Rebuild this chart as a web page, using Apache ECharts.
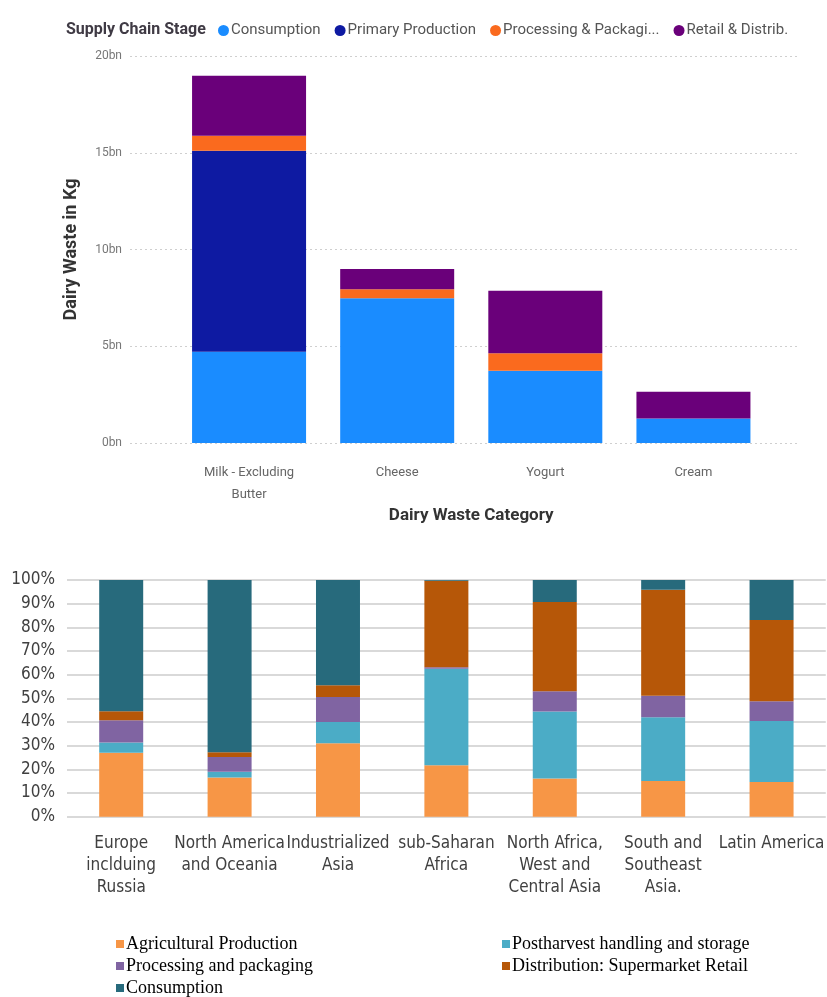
<!DOCTYPE html>
<html>
<head>
<meta charset="utf-8">
<script src="https://cdn.jsdelivr.net/npm/echarts@6/dist/echarts.min.js"></script>
<style>
  html, body { margin: 0; padding: 0; background: #fff; }
  #chart { width: 827px; height: 997px; }
</style>
</head>
<body>
<div id="chart"></div>
<script>
// ---- Dairy waste by category (billions of kg) ----
const dairyCategories = ['Milk - Excluding\nButter', 'Cheese', 'Yogurt', 'Cream'];
const stageNames = ['Consumption', 'Primary Production', 'Processing & Packaging', 'Retail & Distribution'];
const stageLegendLabels = ['Consumption', 'Primary Production', 'Processing & Packagi...', 'Retail & Distrib.'];
const consumptionBn = [4.72, 7.48, 3.74, 1.26];
const primaryProductionBn = [10.38, 0, 0, 0];
const processingBn = [0.78, 0.46, 0.90, 0];
const retailBn = [3.10, 1.05, 3.23, 1.39];
const dairyTicks = [0, 5, 10, 15, 20];

// ---- Share of food loss by supply chain stage per region (%) ----
const regions = ['Europe\ninclduing\nRussia', 'North America\nand Oceania', 'Industrialized\nAsia',
  'sub-Saharan\nAfrica', 'North Africa,\nWest and\nCentral Asia', 'South and\nSoutheast\nAsia.', 'Latin America'];
const lossStages = ['Agricultural Production', 'Postharvest handling and storage', 'Processing and packaging',
  'Distribution: Supermarket Retail', 'Consumption'];
const agricultural = [27.0, 16.6, 31.0, 21.7, 16.1, 15.1, 14.7];
const postharvest  = [4.4, 2.4, 9.0, 40.8, 28.3, 26.9, 25.7];
const processing   = [9.3, 6.2, 10.6, 0.6, 8.6, 9.1, 8.4];
const distribution = [3.8, 2.0, 4.9, 36.6, 37.7, 44.8, 34.3];
const consumption  = [55.5, 72.8, 44.5, 0.3, 9.3, 4.1, 16.9];

const dairyColors = ['#1A8CFF', '#0E1AA2', '#FA6A1E', '#6A007A'];
const lossColors = ['#F79646', '#4BACC6', '#8064A2', '#B65708', '#276A7C'];

const uiFont = 'Roboto, "Noto Sans", sans-serif';
const xlFont = '"Liberation Sans Narrow", "DejaVu Sans Condensed", sans-serif';
const serifFont = '"Liberation Serif", "DejaVu Serif", serif';

const dairyValues = [consumptionBn, primaryProductionBn, processingBn, retailBn];
const lossValues = [agricultural, postharvest, processing, distribution, consumption];

// Series in the two charts share stage names, so each series gets a chart-specific key
const dairyKey = n => 'dairy:' + n;
const lossKey = n => 'loss:' + n;

const chart = echarts.init(document.getElementById('chart'), null, { renderer: 'canvas' });

const series = [];
stageNames.forEach((name, i) => {
  series.push({
    name: dairyKey(name), type: 'bar', stack: 'dairy', xAxisIndex: 0, yAxisIndex: 0,
    barWidth: 114, data: dairyValues[i],
    itemStyle: { color: dairyColors[i] }, emphasis: { disabled: true }
  });
});
lossStages.forEach((name, i) => {
  series.push({
    name: lossKey(name), type: 'bar', stack: 'loss', xAxisIndex: 2, yAxisIndex: 2,
    barWidth: 44, data: lossValues[i],
    itemStyle: { color: lossColors[i] }, emphasis: { disabled: true }
  });
});

const lossLegendText = {
  fontFamily: serifFont, fontSize: 18, color: '#000', padding: [0, 0, 0, -3]
};

const option = {
  animation: false,
  backgroundColor: '#fff',
  title: {
    text: 'Supply Chain Stage', left: 61, top: 17,
    textStyle: { fontFamily: uiFont, fontSize: 16, fontWeight: 'bold', color: '#3f3a44' }
  },
  legend: [
    {
      data: stageNames.map(dairyKey), left: 213, top: 18, icon: 'circle',
      itemWidth: 11, itemHeight: 11, itemGap: 14,
      formatter: n => stageLegendLabels[stageNames.map(dairyKey).indexOf(n)],
      textStyle: { fontFamily: uiFont, fontSize: 15, color: '#555', padding: [0, 0, 0, -3] }
    },
    {
      data: [lossStages[0], lossStages[2], lossStages[4]].map(lossKey), orient: 'vertical',
      left: 111, top: 930, height: 80, icon: 'rect', itemWidth: 8, itemHeight: 8, itemGap: 4,
      formatter: n => n.slice(5), textStyle: lossLegendText
    },
    {
      data: [lossStages[1], lossStages[3]].map(lossKey), orient: 'vertical',
      left: 497, top: 930, height: 80, icon: 'rect', itemWidth: 8, itemHeight: 8, itemGap: 4,
      formatter: n => n.slice(5), textStyle: lossLegendText
    }
  ],
  grid: [
    { left: 175, right: 59.5, top: 56, height: 387 },   // dairy bars
    { left: 130, right: 27, top: 56, height: 387 },     // dairy value gridlines
    { left: 67, width: 765, top: 580, height: 236.7 }   // regional shares
  ],
  xAxis: [
    {
      type: 'category', gridIndex: 0, data: dairyCategories,
      axisLine: { show: false }, axisTick: { show: false },
      axisLabel: { interval: 0, margin: 19, fontFamily: uiFont, fontSize: 13, color: '#666', lineHeight: 22 },
      name: 'Dairy Waste Category', nameLocation: 'middle', nameGap: 64,
      nameTextStyle: { fontFamily: uiFont, fontSize: 17, fontWeight: 'bold', color: '#333' }
    },
    { type: 'value', gridIndex: 1, show: false, min: 0, max: 1 },
    {
      type: 'category', gridIndex: 2, data: regions,
      axisLine: { show: false }, axisTick: { show: false },
      axisLabel: { interval: 0, margin: 16, fontFamily: xlFont, fontSize: 17, color: '#404040', lineHeight: 22 }
    }
  ],
  yAxis: [
    { type: 'value', gridIndex: 0, min: 0, max: 20, interval: 5, show: false },
    {
      type: 'value', gridIndex: 1, min: dairyTicks[0], max: dairyTicks[dairyTicks.length - 1], interval: 5,
      axisLine: { show: false }, axisTick: { show: false },
      axisLabel: { formatter: v => v + 'bn', fontFamily: uiFont, fontSize: 12, color: '#777', margin: 8 },
      splitLine: { lineStyle: { color: '#cfcfcf', type: [2, 3], width: 1 } },
      name: 'Dairy Waste in Kg', nameLocation: 'middle', nameGap: 50, nameRotate: 90,
      nameTextStyle: { fontFamily: uiFont, fontSize: 18, fontWeight: 'bold', color: '#333' }
    },
    {
      type: 'value', gridIndex: 2, min: 0, max: 100, interval: 10,
      axisLine: { show: false }, axisTick: { show: false },
      axisLabel: { formatter: '{value}%', fontFamily: xlFont, fontSize: 17, color: '#404040', margin: 12 },
      splitLine: { lineStyle: { color: '#d9d9d9', width: 2 } }
    }
  ],
  series
};

chart.setOption(option);
</script>
</body>
</html>
